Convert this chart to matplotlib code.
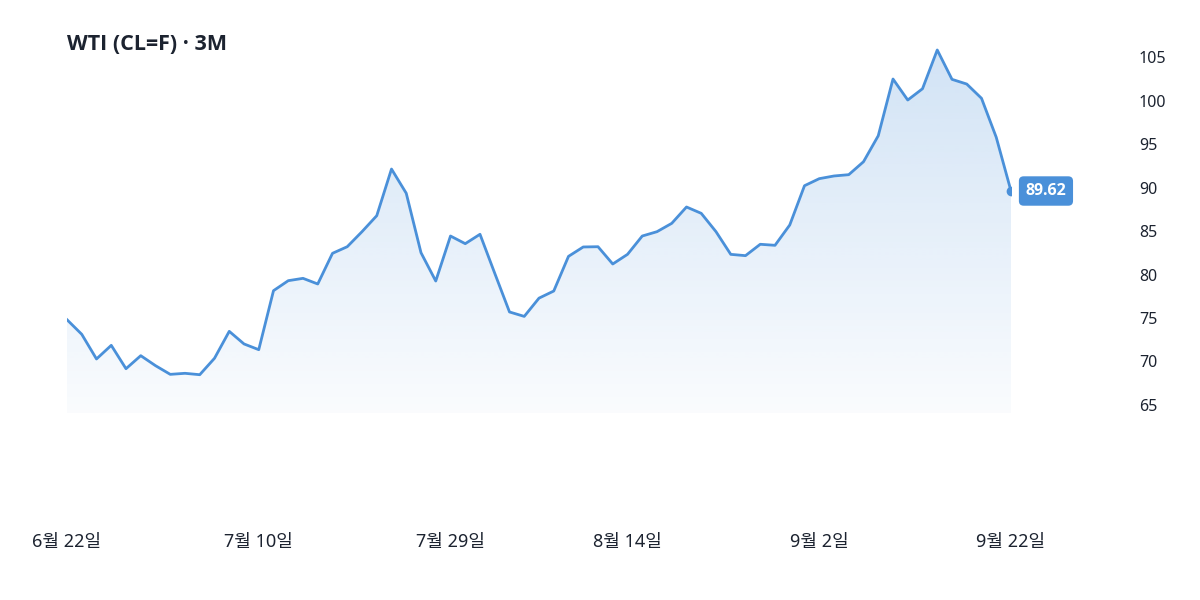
import numpy as np
import matplotlib
matplotlib.use("Agg")
import matplotlib.pyplot as plt
from matplotlib.patches import Polygon

plt.rcParams['font.family'] = ['Noto Sans', 'Noto Sans CJK KR', 'DejaVu Sans']

# ---- data ----
title = "WTI (CL=F) · 3M"
prices = [74.81, 73.13, 70.29, 71.86, 69.17, 70.67, 69.52, 68.52, 68.64, 68.48,
          70.37, 73.47, 72.02, 71.36, 78.15, 79.30, 79.57, 78.92, 82.45, 83.21,
          84.94, 86.78, 92.15, 89.36, 82.52, 79.26, 84.44, 83.56, 84.64, 80.15,
          75.70, 75.19, 77.29, 78.11, 82.10, 83.18, 83.21, 81.22, 82.33, 84.44,
          84.94, 85.90, 87.78, 87.05, 84.94, 82.33, 82.18, 83.49, 83.37, 85.71,
          90.23, 91.04, 91.35, 91.50, 92.99, 95.98, 102.51, 100.09, 101.39, 105.85,
          102.47, 101.93, 100.29, 95.80, 89.62]
xtick_idx = [0, 13, 26, 38, 51, 64]
xtick_labels = ["6월 22일", "7월 10일", "7월 29일", "8월 14일", "9월 2일", "9월 22일"]
ytick_vals = [65, 70, 75, 80, 85, 90, 95, 100, 105]
last_label = "89.62"
fill_base = 64.07

line_color = "#4a90d9"
text_color = "#1c2330"
bold_family = ['Open Sans', 'DejaVu Sans']

fig = plt.figure(figsize=(12, 6), dpi=100)
ax = fig.add_axes([67/1200, 100/600, (1011-67)/1200, 470/600])
x = np.arange(len(prices))
y = np.array(prices)

ax.set_xlim(0, len(prices) - 1)
ax.set_ylim(54.06, 108.15)

# gradient fill
verts = [(0, fill_base)] + list(zip(x, y)) + [(x[-1], fill_base)]
poly = Polygon(verts, closed=True, facecolor='none', edgecolor='none')
ax.add_patch(poly)
top = y.max()
grad = np.linspace(0, 1, 256).reshape(-1, 1)  # 0 at bottom, 1 at top
rgba = np.zeros((256, 1, 4))
c = matplotlib.colors.to_rgb(line_color)
rgba[..., 0] = c[0]; rgba[..., 1] = c[1]; rgba[..., 2] = c[2]
rgba[..., 3] = 0.03 + 0.22 * grad
im = ax.imshow(rgba, extent=[0, x[-1], fill_base, top], origin='lower',
               aspect='auto', zorder=1, interpolation='bilinear')
im.set_clip_path(poly)

ax.plot(x, y, color=line_color, lw=2.0, zorder=3, solid_joinstyle='round')
ax.plot([x[-1]], [y[-1]], 'o', color=line_color, ms=6, zorder=4)

ax.annotate(last_label, xy=(x[-1], y[-1]), xytext=(10.5, 0), textcoords='offset points',
            ha='left', va='center', color='white', fontsize=11.5, fontweight='bold',
            family=bold_family,
            bbox=dict(boxstyle='round,pad=0.42,rounding_size=0.3', fc=line_color, ec='none'),
            zorder=5, annotation_clip=False)

for s in ax.spines.values():
    s.set_visible(False)
ax.yaxis.tick_right()
ax.set_yticks(ytick_vals)
ax.set_yticklabels([str(v) for v in ytick_vals])
ax.tick_params(axis='y', length=0, pad=92, labelsize=11.5, labelcolor=text_color)
ax.set_xticks(xtick_idx)
ax.set_xticklabels(xtick_labels)
ax.tick_params(axis='x', length=0, pad=24, labelsize=13, labelcolor=text_color)
ax.grid(False)

fig.text(67/1200, 1 - 45/600, title, fontsize=15.5, fontweight='bold', color=text_color,
         family=bold_family, ha='left', va='center')

fig.savefig("out.png", dpi=100, facecolor='white')
